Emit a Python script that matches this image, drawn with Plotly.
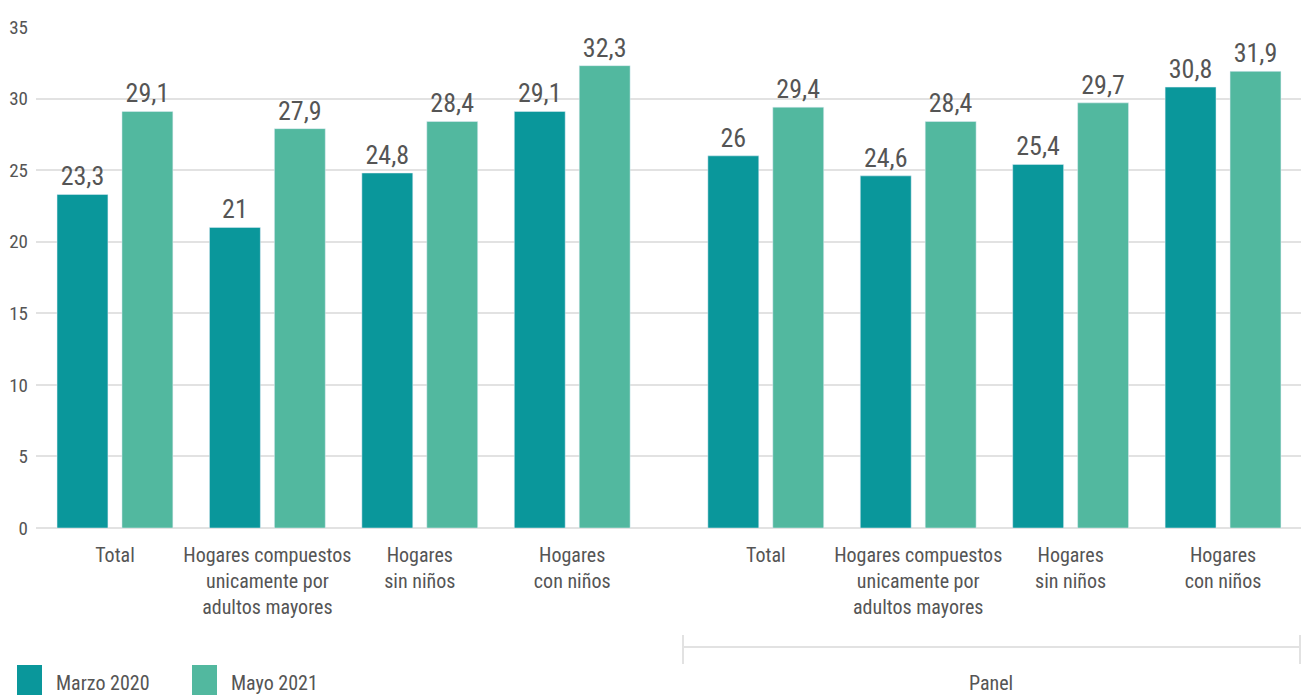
import plotly.graph_objects as go

categories = ["Total", "Hogares compuestos<br>unicamente por<br>adultos mayores",
              "Hogares<br>sin niños", "Hogares<br>con niños"]
groups = ["Corte", "Panel"]
marzo_2020 = [23.3, 21, 24.8, 29.1, 26, 24.6, 25.4, 30.8]
mayo_2021 = [29.1, 27.9, 28.4, 32.3, 29.4, 28.4, 29.7, 31.9]
series_names = ["Marzo 2020", "Mayo 2021"]
y_ticks = [0, 5, 10, 15, 20, 25, 30, 35]

C1 = "#0a979b"
C2 = "#52b89f"
TXT = "#555555"
GRID = "#e2e2e2"
FONT = "Roboto Condensed, Liberation Sans Narrow, sans-serif"

# page has an 8px body margin: figure is drawn 8px smaller and offset
OFF = 8
W, H = 1309 - OFF, 695 - OFF
ML, MR, MT, MB = 36 - OFF, 0, 27 - OFF, 167
GAP = 0.27

labels_all = categories * 2
xpos = [i + (GAP if i >= 4 else 0) for i in range(8)]


def fmt(v):
    return ("%g" % v).replace(".", ",")


def px_x(p):  # page pixel -> paper fraction
    return (p - OFF - ML) / (W - ML - MR)


def px_y(p):
    return (H - MB - (p - OFF)) / (H - MT - MB)


BW = 0.334
fig = go.Figure()
fig.add_trace(go.Bar(x=xpos, y=marzo_2020, name=series_names[0], marker_color=C1,
                     width=BW, offset=-0.213 - BW / 2,
                     text=[fmt(v) for v in marzo_2020], textposition="outside",
                     textfont=dict(size=26, color=TXT, family=FONT), cliponaxis=False,
                     showlegend=False))
fig.add_trace(go.Bar(x=xpos, y=mayo_2021, name=series_names[1], marker_color=C2,
                     width=BW, offset=0.213 - BW / 2,
                     text=[fmt(v) for v in mayo_2021], textposition="outside",
                     textfont=dict(size=26, color=TXT, family=FONT), cliponaxis=False,
                     showlegend=False))

shapes = []
annotations = []
# manual legend
leg_items = [(17, 42, 54, C1, series_names[0]), (192, 217, 229, C2, series_names[1])]
for x0, x1, tx, col, name in leg_items:
    shapes.append(dict(type="rect", xref="paper", yref="paper",
                       x0=px_x(x0), x1=px_x(x1), y0=px_y(700), y1=px_y(665),
                       fillcolor=col, line=dict(width=0)))
    annotations.append(dict(xref="paper", yref="paper", x=px_x(tx), y=px_y(683),
                            text=name, showarrow=False, xanchor="left", yanchor="middle",
                            font=dict(size=20, color=TXT, family=FONT)))
# panel bracket
shapes.append(dict(type="line", xref="paper", yref="paper", x0=px_x(683), x1=px_x(1300),
                   y0=px_y(647), y1=px_y(647), line=dict(color=GRID, width=2)))
for xx in (683, 1300):
    shapes.append(dict(type="line", xref="paper", yref="paper", x0=px_x(xx), x1=px_x(xx),
                       y0=px_y(635), y1=px_y(664), line=dict(color=GRID, width=2)))
annotations.append(dict(xref="paper", yref="paper", x=px_x(991), y=px_y(683),
                        text=groups[1], showarrow=False, xanchor="center", yanchor="middle",
                        font=dict(size=20, color=TXT, family=FONT)))

fig.update_layout(
    width=W, height=H,
    margin=dict(l=ML, r=MR, t=MT, b=MB, pad=0),
    plot_bgcolor="white", paper_bgcolor="white",
    font=dict(family=FONT, color=TXT),
    showlegend=False,
    shapes=shapes, annotations=annotations,
    xaxis=dict(range=[-0.518, 7.834], tickvals=xpos, ticktext=labels_all,
               showgrid=False, zeroline=False, showline=False, ticks="",
               tickfont=dict(size=20, color=TXT, family=FONT), ticklabelstandoff=13),
    yaxis=dict(range=[0, 35], tickvals=y_ticks, showgrid=True, gridcolor=GRID, gridwidth=2,
               zeroline=True, zerolinecolor=GRID, zerolinewidth=2, showline=False,
               ticks="", tickfont=dict(size=19, color=TXT, family=FONT), ticklabelstandoff=7),
)

fig.write_html("out.html")
